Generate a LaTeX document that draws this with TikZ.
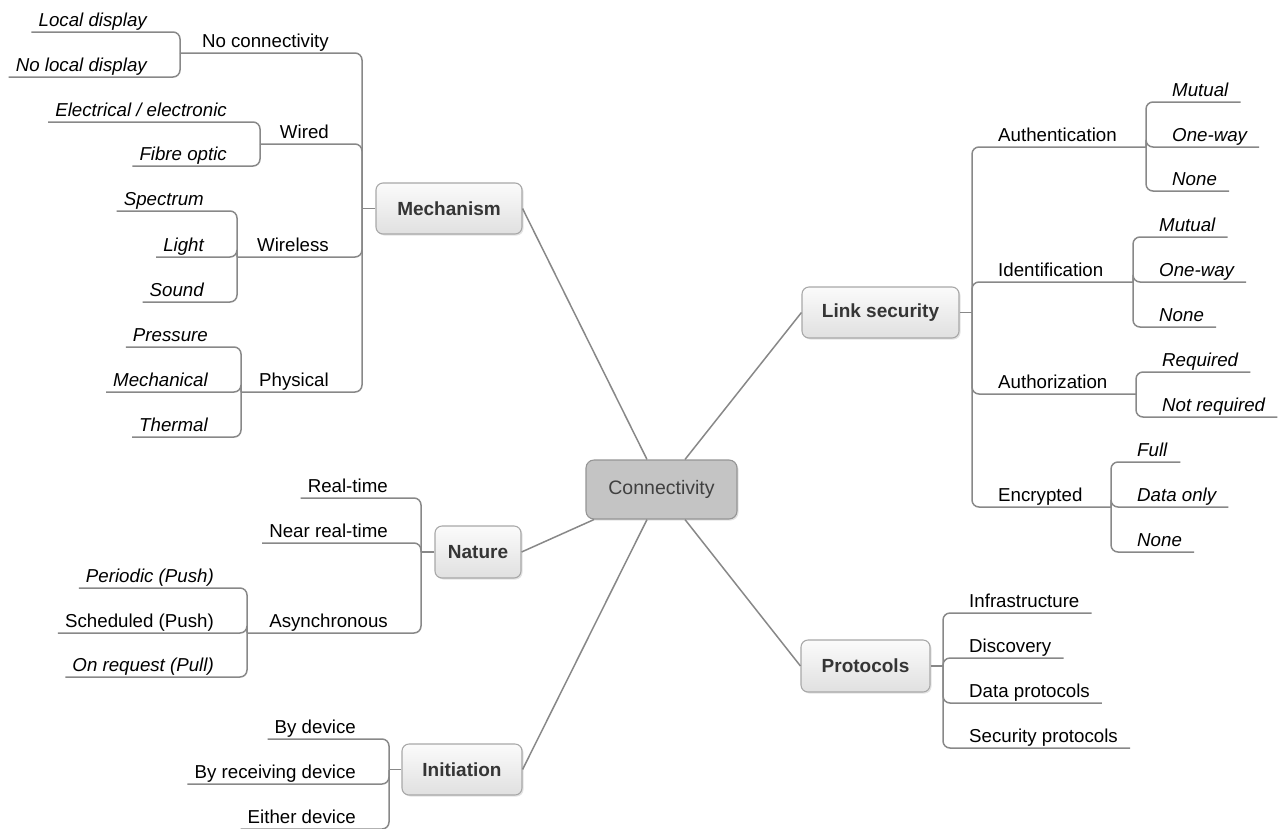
\documentclass[tikz,border=0pt]{standalone}
\usepackage{fontspec}
\setmainfont{Liberation Sans}
\usetikzlibrary{shadows}
\definecolor{linegray}{HTML}{888888}
\definecolor{boxborder}{HTML}{A8A8A8}
\definecolor{boxtop}{HTML}{FBFBFB}
\definecolor{boxbot}{HTML}{E0E0E0}
\definecolor{boxtext}{HTML}{353535}
\definecolor{corefill}{HTML}{C4C4C4}
\definecolor{coreborder}{HTML}{959595}
\definecolor{coretext}{HTML}{404040}
\definecolor{lbltext}{HTML}{000000}
\begin{document}
\begin{tikzpicture}[x=1pt,y=-1pt,
  spoke/.style={draw=linegray, line width=1.5pt},
  branch/.style={draw=linegray, line width=1.5pt, rounded corners=7pt},
  topic/.style={draw=boxborder, line width=1.1pt, rounded corners=7pt,
    top color=boxtop, bottom color=boxbot, text=boxtext,
    font=\fontsize{19pt}{22pt}\selectfont\bfseries,
    drop shadow={opacity=0.22, shadow xshift=1.5pt, shadow yshift=-1.5pt}},
  core/.style={draw=coreborder, line width=1.1pt, rounded corners=8pt,
    fill=corefill, text=coretext, font=\fontsize{19.5pt}{22pt}\selectfont,
    drop shadow={opacity=0.22, shadow xshift=1.5pt, shadow yshift=-1.5pt}},
  lblL/.style={anchor=south east, inner xsep=7pt, inner ysep=0pt, text depth=5.5pt,
    text=lbltext, font=\fontsize{18.7pt}{22pt}\selectfont},
  lblR/.style={anchor=south west, inner xsep=12pt, inner ysep=0pt, text depth=5.5pt,
    text=lbltext, font=\fontsize{18.7pt}{22pt}\selectfont},
  leaf/.append style={font=\fontsize{18.7pt}{22pt}\selectfont\itshape}
]
\useasboundingbox (0,0) rectangle (1279,828);
\clip (0,0) rectangle (1279,828);

% ---------- main boxes ----------
\node[core, minimum width=151pt, minimum height=59pt] (conn) at (661.5,489.5) {Connectivity};
\node[topic, minimum width=146pt, minimum height=51pt] (mech) at (449,208.5) {Mechanism};
\node[topic, minimum width=86pt, minimum height=52pt] (nature) at (478,552) {Nature};
\node[topic, minimum width=120pt, minimum height=51pt] (init) at (462,769.5) {Initiation};
\node[topic, minimum width=157pt, minimum height=51pt] (ls) at (880.5,312.5) {Link security};
\node[topic, minimum width=129pt, minimum height=52pt] (prot) at (865.5,666) {Protocols};

% ---------- spokes ----------
\draw[spoke] (mech.east) -- ([xshift=-14.5pt]conn.north);
\draw[spoke] (ls.west) -- ([xshift=23.5pt]conn.north);
\draw[spoke] (nature.east) -- ([xshift=-67.5pt]conn.south);
\draw[spoke] (init.east) -- ([xshift=-14.5pt]conn.south);
\draw[spoke] (prot.west) -- ([xshift=23.5pt]conn.south);

% ---------- Mechanism ----------
\coordinate (mechJ) at (362,208.5);
\coordinate (noconnJ) at (180,53);
\coordinate (wiredJ) at (260,144);
\coordinate (wirelessJ) at (237,257);
\coordinate (physJ) at (241,392);
\node[lblL] (noconn) at (336,53) {No connectivity};
\node[lblL] (wired) at (336,144) {Wired};
\node[lblL] (wireless) at (336,257) {Wireless};
\node[lblL] (phys) at (336,392) {Physical};
\node[lblL,leaf] (locd) at (154,32) {Local display};
\node[lblL,leaf] (nolocd) at (154,77) {No local display};
\node[lblL,leaf] (elec) at (234,122) {Electrical / electronic};
\node[lblL,leaf] (fibre) at (234,166) {Fibre optic};
\node[lblL,leaf] (spec) at (211,211) {Spectrum};
\node[lblL,leaf] (light) at (211,257) {Light};
\node[lblL,leaf] (sound) at (211,302) {Sound};
\node[lblL,leaf] (press) at (215,347) {Pressure};
\node[lblL,leaf] (mechl) at (215,392) {Mechanical};
\node[lblL,leaf] (therm) at (215,437) {Thermal};
\draw[branch] (mech.west) -- (mechJ);
\draw[branch] (mechJ) |- (noconnJ);
\draw[branch] (mechJ) |- (wiredJ);
\draw[branch] (mechJ) |- (wirelessJ);
\draw[branch] (mechJ) |- (physJ);
\draw[branch] (locd.south west) -| (noconnJ);
\draw[branch] (nolocd.south west) -| (noconnJ);
\draw[branch] (elec.south west) -| (wiredJ);
\draw[branch] (fibre.south west) -| (wiredJ);
\draw[branch] (spec.south west) -| (wirelessJ);
\draw[branch] (light.south west) -| (wirelessJ);
\draw[branch] (sound.south west) -| (wirelessJ);
\draw[branch] (press.south west) -| (physJ);
\draw[branch] (mechl.south west) -| (physJ);
\draw[branch] (therm.south west) -| (physJ);

% ---------- Nature ----------
\coordinate (natJ) at (421,552);
\coordinate (asyncJ) at (247,633);
\node[lblL] (rt) at (395,498) {Real-time};
\node[lblL] (nrt) at (395,543) {Near real-time};
\node[lblL] (async) at (395,633) {Asynchronous};
\node[lblL,leaf] (peri) at (221,588) {Periodic (Push)};
\node[lblL] (sched) at (221,633) {Scheduled (Push)};
\node[lblL,leaf] (onreq) at (221,677) {On request (Pull)};
\draw[branch] (nature.west) -- (natJ);
\draw[branch] (rt.south west) -| (natJ);
\draw[branch] (nrt.south west) -| (natJ);
\draw[branch] (natJ) |- (asyncJ);
\draw[branch] (peri.south west) -| (asyncJ);
\draw[branch] (sched.south west) -| (asyncJ);
\draw[branch] (onreq.south west) -| (asyncJ);

% ---------- Initiation ----------
\coordinate (initJ) at (389,769.5);
\node[lblL] (bydev) at (363,739) {By device};
\node[lblL] (byrecv) at (363,784) {By receiving device};
\node[lblL] (either) at (363,829) {Either device};
\draw[branch] (init.west) -- (initJ);
\draw[branch] (bydev.south west) -| (initJ);
\draw[branch] (byrecv.south west) -| (initJ);
\draw[branch] (either.south west) -| (initJ);

% ---------- Link security ----------
\coordinate (lsJ) at (972,312.5);
\coordinate (authJ) at (1146,147);
\coordinate (identJ) at (1133,282);
\coordinate (authzJ) at (1136,394);
\coordinate (encJ) at (1111,507);
\node[lblR] (auth) at (986,147) {Authentication};
\node[lblR] (ident) at (986,282) {Identification};
\node[lblR] (authz) at (986,394) {Authorization};
\node[lblR] (encr) at (986,507) {Encrypted};
\node[lblR,leaf] (mut1) at (1160,102) {Mutual};
\node[lblR,leaf] (ow1) at (1160,147) {One-way};
\node[lblR,leaf] (none1) at (1160,191) {None};
\node[lblR,leaf] (mut2) at (1147,237) {Mutual};
\node[lblR,leaf] (ow2) at (1147,282) {One-way};
\node[lblR,leaf] (none2) at (1147,327) {None};
\node[lblR,leaf] (req) at (1150,372) {Required};
\node[lblR,leaf] (nreq) at (1150,417) {Not required};
\node[lblR,leaf, inner xsep=12pt, text width=31pt] (full) at (1125,462) {Full};
\node[lblR,leaf] (donly) at (1125,507) {Data only};
\node[lblR,leaf] (none3) at (1125,552) {None};
\draw[branch] (ls.east) -- (lsJ);
\draw[branch] (lsJ) |- (authJ);
\draw[branch] (lsJ) |- (identJ);
\draw[branch] (lsJ) |- (authzJ);
\draw[branch] (lsJ) |- (encJ);
\draw[branch] (authJ) |- (mut1.south east);
\draw[branch] (authJ) |- (ow1.south east);
\draw[branch] (authJ) |- (none1.south east);
\draw[branch] (identJ) |- (mut2.south east);
\draw[branch] (identJ) |- (ow2.south east);
\draw[branch] (identJ) |- (none2.south east);
\draw[branch] (authzJ) |- (req.south east);
\draw[branch] (authzJ) |- (nreq.south east);
\draw[branch] (encJ) |- (full.south east);
\draw[branch] (encJ) |- (donly.south east);
\draw[branch] (encJ) |- (none3.south east);

% ---------- Protocols ----------
\coordinate (protJ) at (943,666);
\node[lblR] (infra) at (957,613) {Infrastructure};
\node[lblR] (disc) at (957,658) {Discovery};
\node[lblR] (datap) at (957,703) {Data protocols};
\node[lblR] (secp) at (957,748) {Security protocols};
\draw[branch] (prot.east) -- (protJ);
\draw[branch] (protJ) |- (infra.south east);
\draw[branch] (protJ) |- (disc.south east);
\draw[branch] (protJ) |- (datap.south east);
\draw[branch] (protJ) |- (secp.south east);
\end{tikzpicture}
\end{document}
